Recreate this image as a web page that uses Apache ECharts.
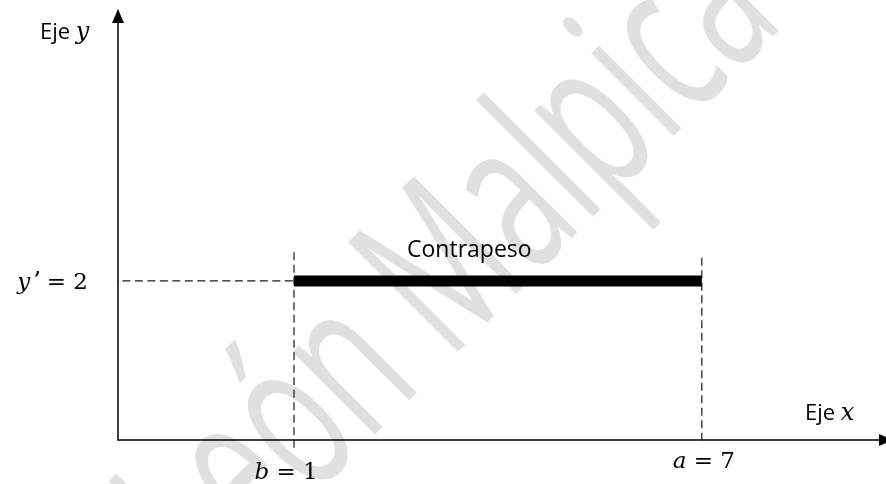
<!DOCTYPE html>
<html>
<head>
<meta charset="utf-8">
<script src="https://cdn.jsdelivr.net/npm/echarts@6/dist/echarts.min.js"></script>
<style>
html,body{margin:0;padding:0;background:#ffffff;}
#chart{width:886px;height:484px;}
</style>
</head>
<body>
<div id="chart"></div>
<script>
// ---- data ----
const xRange = [-1.59, 9.71];
const yRange = [0, 5.33];
const bValue = 1;
const aValue = 7;
const yPrime = 2;
const barSegment = [[bValue, yPrime], [aValue, yPrime]];
const guideHorizontal = [[-1.71, yPrime], [bValue, yPrime]];
const guideB = [[bValue, 2.36], [bValue, -0.11]];
const guideA = [[aValue, 2.29], [aValue, -0.06]];
const axisNames = ['Eje', 'Eje'];
const axisVars = ['x', 'y'];
const barName = 'Contrapeso';
const watermarkText = 'León Malpica';

const chart = echarts.init(document.getElementById('chart'), null, {renderer: 'canvas'});

const mathFont = 'DejaVu Serif';
const sansFont = 'Open Sans';
const mathSize = 23;

const dashStyle = {color: '#1a1a1a', width: 1.2, type: [8, 4.5]};

// watermark scale
const cv = document.createElement('canvas').getContext('2d');
cv.font = '150px "Open Sans"';
const wmWidth = cv.measureText(watermarkText).width;
const wmScaleX = 816 / wmWidth;

const option = {
  animation: false,
  backgroundColor: '#ffffff',
  grid: {left: 118, top: 16, width: 772, height: 424, containLabel: false},
  xAxis: {
    type: 'value', min: xRange[0], max: xRange[1],
    axisLine: {onZero: false, lineStyle: {color: '#000', width: 1.5}, symbol: ['none', 'triangle'], symbolSize: [12, 14]},
    axisTick: {show: false}, axisLabel: {show: false}, splitLine: {show: false}
  },
  yAxis: {
    type: 'value', min: yRange[0], max: yRange[1],
    axisLine: {show: true, onZero: false, lineStyle: {color: '#000', width: 1.5}, symbol: ['none', 'triangle'], symbolSize: [12, 14]},
    axisTick: {show: false}, axisLabel: {show: false}, splitLine: {show: false}
  },
  series: [
    {type: 'line', data: guideHorizontal, symbol: 'none', clip: false, silent: true, lineStyle: dashStyle, z: 3},
    {type: 'line', data: guideB, symbol: 'none', clip: false, silent: true, lineStyle: dashStyle, z: 3},
    {type: 'line', data: guideA, symbol: 'none', clip: false, silent: true, lineStyle: dashStyle, z: 3},
    {type: 'line', name: barName, data: barSegment, symbol: 'none', clip: false, silent: true,
     lineStyle: {color: '#000', width: 11, cap: 'butt'}, z: 4}
  ],
  graphic: [
    {
      id: 'wm', type: 'text', z: -10, silent: true,
      x: 454, y: 268, rotation: Math.PI / 4, scaleX: wmScaleX, scaleY: 1.45,
      style: {text: watermarkText, fontFamily: sansFont, fontSize: 150, fill: '#e0e0e0', align: 'center', verticalAlign: 'middle'}
    },
    {
      id: 'ejeY', type: 'text', z: 10, x: 40, y: 33,
      style: {text: axisNames[1] + ' {m|' + axisVars[1] + '}', fontFamily: sansFont, fontSize: 22, fill: '#000', align: 'left', verticalAlign: 'middle',
        rich: {m: {fontFamily: mathFont, fontStyle: 'italic', fontSize: 24, fill: '#000'}}}
    },
    {
      id: 'ejeX', type: 'text', z: 10, x: 805, y: 414,
      style: {text: axisNames[0] + ' {m|' + axisVars[0] + '}', fontFamily: sansFont, fontSize: 22, fill: '#000', align: 'left', verticalAlign: 'middle',
        rich: {m: {fontFamily: mathFont, fontStyle: 'italic', fontSize: 24, fill: '#000'}}}
    },
    {
      id: 'barName', type: 'text', z: 10, x: 407, y: 250,
      style: {text: barName, fontFamily: sansFont, fontSize: 23, fill: '#000', align: 'left', verticalAlign: 'middle'}
    }
  ]
};
chart.setOption(option);

// math labels anchored to data positions
const pB = chart.convertToPixel({gridIndex: 0}, [bValue, 0]);
const pA = chart.convertToPixel({gridIndex: 0}, [aValue, 0]);
const pY = chart.convertToPixel({gridIndex: 0}, [xRange[0], yPrime]);
const mathRich = {
  i: {fontFamily: mathFont, fontStyle: 'italic', fontSize: mathSize, fill: '#000'},
  p: {fontFamily: mathFont, fontSize: 24, fill: '#000', padding: [0, 6, 0, 3]}
};
chart.setOption({
  graphic: [
    {id: 'lblB', type: 'text', z: 10, x: pB[0] - 8, y: pB[1] + 33,
     style: {text: '{i|b} = ' + bValue, fontFamily: mathFont, fontSize: mathSize, fill: '#000', align: 'center', verticalAlign: 'middle', rich: mathRich}},
    {id: 'lblA', type: 'text', z: 10, x: pA[0] + 2, y: pA[1] + 22,
     style: {text: '{i|a} = ' + aValue, fontFamily: mathFont, fontSize: mathSize, fill: '#000', align: 'center', verticalAlign: 'middle', rich: mathRich}},
    {id: 'lblY', type: 'text', z: 10, x: pY[0] - 30, y: pY[1] + 2,
     style: {text: '{i|y}{p|\u2019}= ' + yPrime, fontFamily: mathFont, fontSize: mathSize, fill: '#000', align: 'right', verticalAlign: 'middle', rich: mathRich}}
  ]
});
</script>
</body>
</html>
